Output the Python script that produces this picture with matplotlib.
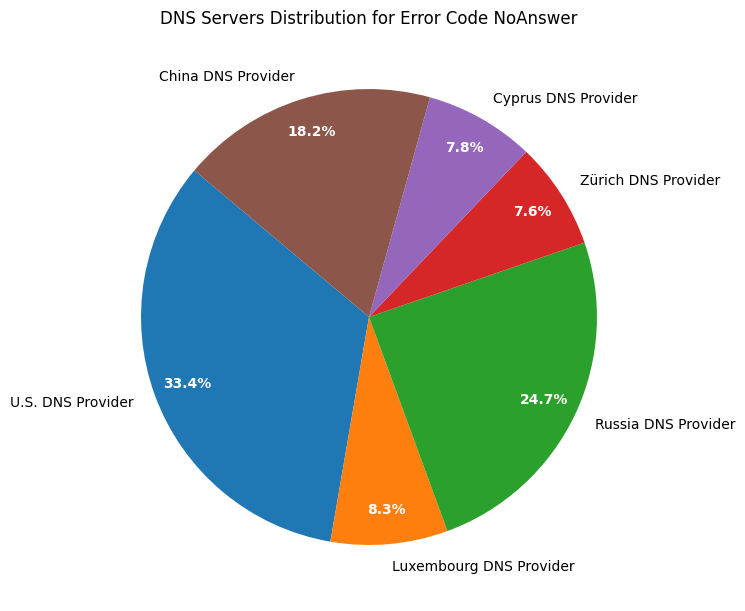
import matplotlib
matplotlib.use("Agg")
import matplotlib.pyplot as plt

# DNS provider shares for error code NoAnswer
providers = ['U.S. DNS Provider', 'Luxembourg DNS Provider', 'Russia DNS Provider',
             'Zürich DNS Provider', 'Cyprus DNS Provider', 'China DNS Provider']
shares = [33.4, 8.3, 24.7, 7.6, 7.8, 18.2]

fig = plt.figure(figsize=(7.45, 6.11), dpi=100)
ax = fig.add_axes([0.1128, 0.0147, 0.765, 0.933])

wedges, texts, autotexts = ax.pie(shares, labels=providers, autopct='%1.1f%%',
                                  startangle=140, pctdistance=0.85)
for t in autotexts:
    t.set_color('white')
    t.set_fontweight('bold')

ax.set_title('DNS Servers Distribution for Error Code NoAnswer', fontsize=12, pad=6)
ax.set_xlim(-1.25, 1.25)
ax.set_ylim(-1.25, 1.25)

fig.savefig('out.png', dpi=100)
